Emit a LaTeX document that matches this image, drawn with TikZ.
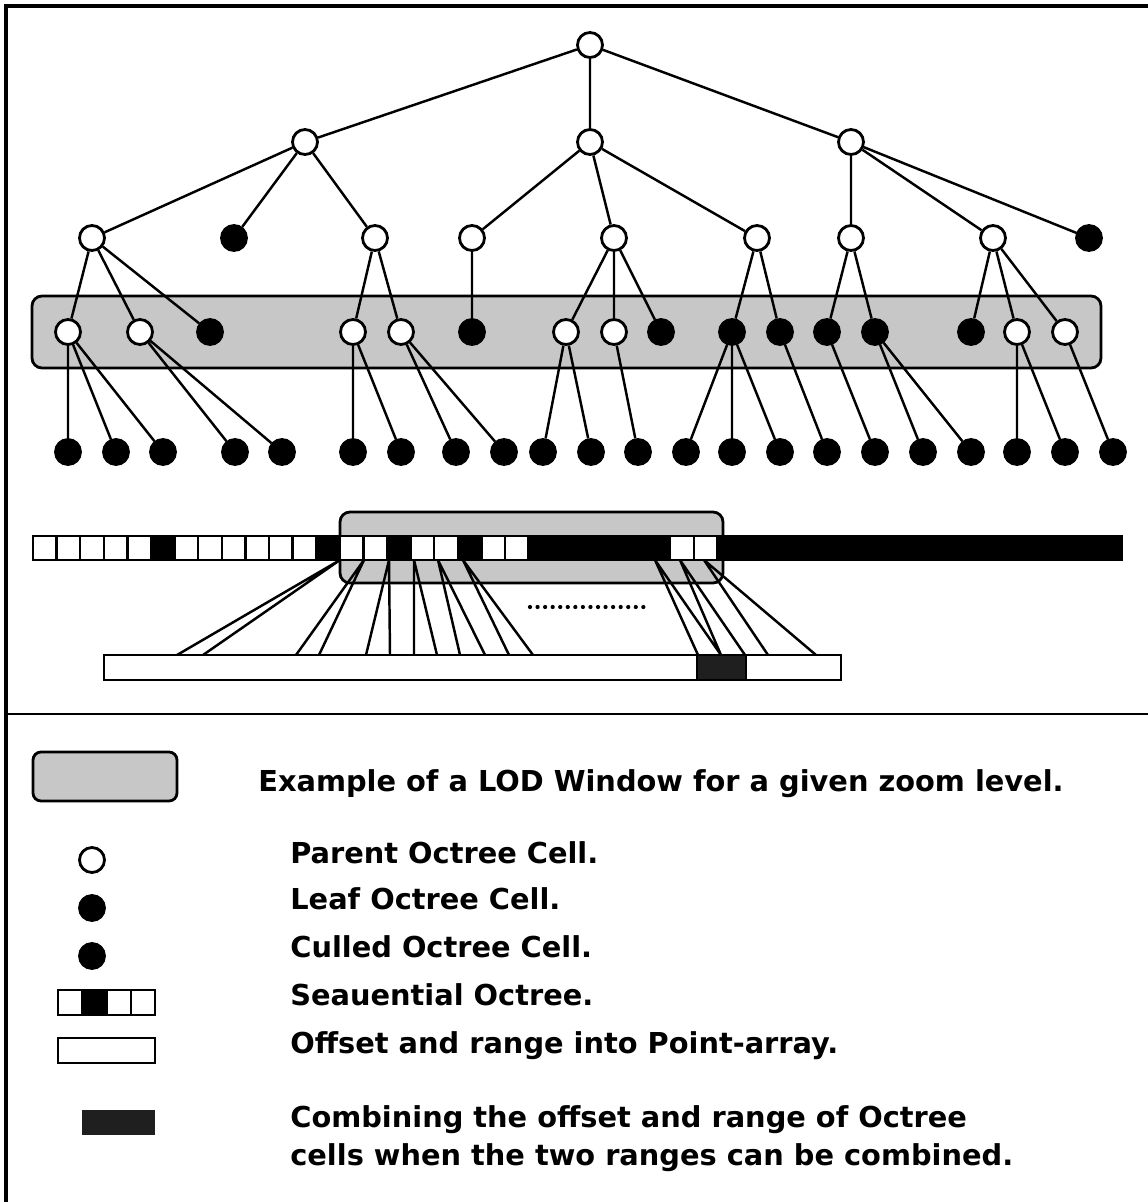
\documentclass[tikz,border=0pt]{standalone}
\usepackage{fontspec}
\setmainfont{DejaVu Sans}
\usepackage{tikz}
\usetikzlibrary{positioning,calc,shapes}

\tikzset{
  parent/.style={circle, draw, fill=white, line width=1.6pt, minimum size=5mm, inner sep=0pt},
  leaf/.style={circle, draw, fill=black, line width=1.6pt, minimum size=5mm, inner sep=0pt},
  branch/.style={line width=1.4pt},
  lodwin/.style={draw, line width=1.6pt, fill=black!22, rounded corners=2mm},
  cell/.style={draw, line width=1.3pt, fill=white},
  legtext/.style={anchor=base west, inner sep=0pt, font=\fontsize{16.4}{19}\selectfont\bfseries},
}

\begin{document}
\begin{tikzpicture}[x=0.2mm, y=-0.2mm]
\useasboundingbox (0,0) rectangle (1148,1202);
% frame
\draw[line width=1.8pt] (6,1210) -- (6,6) -- (1160,6);
\draw[line width=1.6pt] (6,714) -- (1160,714);

% LOD window on the third level
\draw[lodwin] (32,296) rectangle (1101,368);

% octree
\node[parent] (r) at (590,45) {};
\node[parent] (a) at (305,142) {};
\node[parent] (b) at (590,142) {};
\node[parent] (c) at (851,142) {};

\node[parent] (a1) at (92,238) {};
\node[leaf]   (a2) at (234,238) {};
\node[parent] (a3) at (375,238) {};
\node[parent] (b1) at (472,238) {};
\node[parent] (b2) at (614,238) {};
\node[parent] (b3) at (757,238) {};
\node[parent] (c1) at (851,238) {};
\node[parent] (c2) at (993,238) {};
\node[leaf]   (c3) at (1089,238) {};

\node[parent] (a11) at (68,332) {};
\node[parent] (a12) at (140,332) {};
\node[leaf]   (a13) at (210,332) {};
\node[parent] (a31) at (353,332) {};
\node[parent] (a32) at (401,332) {};
\node[leaf]   (b11) at (472,332) {};
\node[parent] (b21) at (566,332) {};
\node[parent] (b22) at (614,332) {};
\node[leaf]   (b23) at (661,332) {};
\node[leaf]   (b31) at (732,332) {};
\node[leaf]   (b32) at (780,332) {};
\node[leaf]   (c11) at (827,332) {};
\node[leaf]   (c12) at (875,332) {};
\node[leaf]   (c21) at (971,332) {};
\node[parent] (c22) at (1017,332) {};
\node[parent] (c23) at (1065,332) {};

\node[leaf] (a111) at (68,452) {};
\node[leaf] (a112) at (116,452) {};
\node[leaf] (a113) at (163,452) {};
\node[leaf] (a121) at (235,452) {};
\node[leaf] (a122) at (282,452) {};
\node[leaf] (a311) at (353,452) {};
\node[leaf] (a312) at (401,452) {};
\node[leaf] (a321) at (456,452) {};
\node[leaf] (a322) at (504,452) {};
\node[leaf] (b211) at (543,452) {};
\node[leaf] (b212) at (591,452) {};
\node[leaf] (b221) at (638,452) {};
\node[leaf] (b311) at (686,452) {};
\node[leaf] (b312) at (732,452) {};
\node[leaf] (b313) at (780,452) {};
\node[leaf] (b321) at (827,452) {};
\node[leaf] (c111) at (875,452) {};
\node[leaf] (c121) at (923,452) {};
\node[leaf] (c122) at (971,452) {};
\node[leaf] (c221) at (1017,452) {};
\node[leaf] (c222) at (1065,452) {};
\node[leaf] (c231) at (1113,452) {};

\draw[branch] (r) -- (a) (r) -- (b) (r) -- (c)
  (a) -- (a1) (a) -- (a2) (a) -- (a3)
  (b) -- (b1) (b) -- (b2) (b) -- (b3)
  (c) -- (c1) (c) -- (c2) (c) -- (c3)
  (a1) -- (a11) (a1) -- (a12) (a1) -- (a13)
  (a3) -- (a31) (a3) -- (a32)
  (b1) -- (b11)
  (b2) -- (b21) (b2) -- (b22) (b2) -- (b23)
  (b3) -- (b31) (b3) -- (b32)
  (c1) -- (c11) (c1) -- (c12)
  (c2) -- (c21) (c2) -- (c22) (c2) -- (c23)
  (a11) -- (a111) (a11) -- (a112) (a11) -- (a113)
  (a12) -- (a121) (a12) -- (a122)
  (a31) -- (a311) (a31) -- (a312)
  (a32) -- (a321) (a32) -- (a322)
  (b21) -- (b211) (b21) -- (b212)
  (b22) -- (b221)
  (b31) -- (b311) (b31) -- (b312) (b31) -- (b313)
  (b32) -- (b321)
  (c11) -- (c111)
  (c12) -- (c121) (c12) -- (c122)
  (c22) -- (c221) (c22) -- (c222)
  (c23) -- (c231);

% sequential octree with its LOD window
\draw[lodwin] (340,512) rectangle (723,583);
\draw[fill=black, line width=1.2pt] (33,536) rectangle (1122,560);
\foreach \i in {0,1,2,3,4,6,7,8,9,10,11,13,14,16,17,19,20,27,28}
  \draw[cell] ({33+\i*23.6},536) rectangle +(23.6,24);

% point array
\draw[line width=1.4pt, fill=white] (104,655) rectangle (841,680);
\draw[line width=1.4pt, fill=black!88] (697,655) rectangle (746,680);
\draw[line width=2.4pt, line cap=round, dash pattern=on 0pt off 4.3pt] (530,607) -- (646,607);

\coordinate (s1) at (340,560);
\coordinate (s2) at (364,560);
\coordinate (s3) at (389,560);
\coordinate (s4) at (414,560);
\coordinate (s5) at (438,560);
\coordinate (s6) at (463,560);
\coordinate (s7) at (655,560);
\coordinate (s8) at (680,560);
\coordinate (s9) at (704,560);

\coordinate (p1) at (177,655);  \coordinate (p2) at (203,655);
\coordinate (p3) at (296,655);  \coordinate (p4) at (319,655);
\coordinate (p5) at (366,655);  \coordinate (p6) at (390,655);
\coordinate (p7) at (414,655);  \coordinate (p8) at (437,655);
\coordinate (p9) at (460,655);  \coordinate (p10) at (485,655);
\coordinate (p11) at (509,655); \coordinate (p12) at (533,655);
\coordinate (p13) at (698,655); \coordinate (p14) at (721,655);
\coordinate (p15) at (721,655); \coordinate (p16) at (745,655);
\coordinate (p17) at (768,655); \coordinate (p18) at (816,655);

\draw[branch] (s1) -- (p1) (s1) -- (p2)
  (s2) -- (p3) (s2) -- (p4)
  (s3) -- (p5) (s3) -- (p6)
  (s4) -- (p7) (s4) -- (p8)
  (s5) -- (p9) (s5) -- (p10)
  (s6) -- (p11) (s6) -- (p12)
  (s7) -- (p13) (s7) -- (p14)
  (s8) -- (p15) (s8) -- (p16)
  (s9) -- (p17) (s9) -- (p18);

% legend
\draw[lodwin, rounded corners=1.6mm] (33,752) rectangle (177,801);
\node[legtext] (lodtxt) at (258,791) {Example of a LOD Window for a given zoom level.};

\node[parent] (kparent) at (92,860) {};
\node[legtext] (parenttxt) at (290,863) {Parent Octree Cell.};

\node[leaf] (kleaf) at (92,908) {};
\node[legtext] (leaftxt) at (290,909) {Leaf Octree Cell.};

\node[leaf] (kculled) at (92,956) {};
\node[legtext] (culledtxt) at (290,957) {Culled Octree Cell.};

\draw[fill=black, line width=1.2pt] (58,990) rectangle (155,1015);
\foreach \x in {58,106.5,130.75}
  \draw[cell] (\x,990) rectangle +(24.25,25);
\node[legtext] (seqtxt) at (290,1005) {Seauential Octree.};

\draw[line width=1.4pt, fill=white] (58,1038) rectangle (155,1063);
\node[legtext] (offtxt) at (290,1053) {Offset and range into Point-array.};

\fill[black!88] (82,1110) rectangle (155,1135);
\node[legtext] (combtxt) at (290,1127) {Combining the offset and range of Octree};
\node[legtext] (combtxtb) at (290,1165) {cells when the two ranges can be combined.};
\end{tikzpicture}
\end{document}
